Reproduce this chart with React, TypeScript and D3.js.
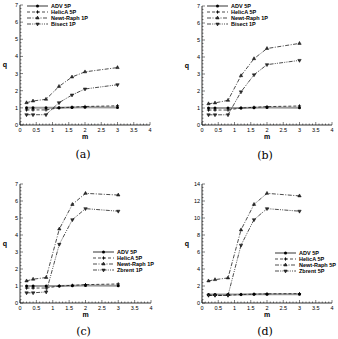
import React, { useEffect, useRef } from "react"
import * as d3 from "d3"

// x positions of the samples (m)
const mValues = [0.2, 0.4, 0.8, 1.2, 1.6, 2, 3]

// panel (a)
const advA = [1.0, 1.0, 1.0, 1.0, 1.02, 1.03, 1.02]
const helicA = [0.88, 0.88, 0.88, 1.0, 1.04, 1.08, 1.12]
const newtA = [1.3, 1.4, 1.5, 2.25, 2.8, 3.1, 3.35]
const bisectA = [0.6, 0.6, 0.6, 1.3, 1.75, 2.1, 2.35]

// panel (b)
const advB = [1.0, 1.0, 1.0, 1.0, 1.02, 1.03, 1.02]
const helicB = [0.88, 0.88, 0.88, 1.0, 1.04, 1.08, 1.12]
const newtB = [1.25, 1.3, 1.45, 2.9, 3.9, 4.5, 4.8]
const bisectB = [0.6, 0.6, 0.6, 1.95, 2.95, 3.55, 3.8]

// panel (c)
const advC = [1.0, 1.0, 1.0, 1.0, 1.02, 1.03, 1.02]
const helicC = [0.88, 0.88, 0.88, 1.0, 1.04, 1.08, 1.12]
const newtC = [1.3, 1.4, 1.5, 4.35, 5.8, 6.45, 6.35]
const zbrentC = [0.6, 0.6, 0.65, 3.45, 4.9, 5.55, 5.4]

// panel (d)
const advD = [1.0, 1.0, 1.0, 1.0, 1.02, 1.03, 1.02]
const helicD = [0.9, 0.9, 0.9, 1.0, 1.04, 1.08, 1.1]
const newtD = [2.6, 2.75, 2.95, 8.6, 11.6, 12.9, 12.6]
const zbrentD = [0.9, 0.9, 0.9, 6.8, 9.8, 11.1, 10.8]

const legendA = ["ADV 5P", "HelicA 5P", "Newt-Raph 1P", "Bisect 1P"]
const legendC = ["ADV 5P", "HelicA 5P", "Newt-Raph 1P", "Zbrent 1P"]
const legendD = ["ADV 5P", "HelicA 5P", "Newt-Raph 5P", "Zbrent 5P"]

const xTicks = [0, 0.5, 1, 1.5, 2, 2.5, 3, 3.5, 4]

// line style per series: dash pattern, marker
const styles = [
	{ dash: null, marker: "circle", color: "#9a9a9a", width: 2 },
	{ dash: "3,2", marker: "plus", color: "#000", width: 0.7 },
	{ dash: "4,1.5,1,1.5", marker: "up", color: "#000", width: 0.7 },
	{ dash: "4,1.2,1,1.2,1,1.2", marker: "down", color: "#000", width: 0.7 },
]

const panels = [
	{ caption: "(a)", left: 20, right: 150, top: 5, bottom: 125, yMax: 7, yStep: 1, yMinor: 0.2, series: [advA, helicA, newtA, bisectA], legend: legendA, lx: 27, ly: 6, capY: 158 },
	{ caption: "(b)", left: 202, right: 332, top: 6, bottom: 125, yMax: 7, yStep: 1, yMinor: 0.2, series: [advB, helicB, newtB, bisectB], legend: legendA, lx: 207, ly: 6, capY: 159 },
	{ caption: "(c)", left: 20, right: 151, top: 184, bottom: 303, yMax: 7, yStep: 1, yMinor: 0.2, series: [advC, helicC, newtC, zbrentC], legend: legendC, lx: 93, ly: 252, capY: 335 },
	{ caption: "(d)", left: 202, right: 332, top: 184, bottom: 303, yMax: 14, yStep: 2, yMinor: 0.4, series: [advD, helicD, newtD, zbrentD], legend: legendD, lx: 275, ly: 253, capY: 335 },
]

const drawMarker = (g, kind, x, y) => {
	if (kind === "circle") {
		g.append("circle").attr("cx", x).attr("cy", y).attr("r", 1.5).attr("fill", "#000")
	} else if (kind === "plus") {
		g.append("path")
			.attr("d", `M${x - 1.6},${y}H${x + 1.6}M${x},${y - 1.6}V${y + 1.6}`)
			.attr("stroke", "#000")
			.attr("stroke-width", 0.9)
	} else {
		const sym = d3.symbol().type(d3.symbolTriangle).size(5)
		g.append("path")
			.attr("d", sym())
			.attr("transform", `translate(${x},${y}) rotate(${kind === "down" ? 180 : 0})`)
			.attr("fill", "#333")
			.attr("stroke", "#000")
			.attr("stroke-width", 0.5)
	}
}

const App = () => {
	const ref = useRef(null)

	useEffect(() => {
		const svg = d3.select(ref.current)
		svg.selectAll("*").remove()
		const font = "'Liberation Sans', Arial, sans-serif"

		panels.forEach(p => {
			const g = svg.append("g")
			const x = d3.scaleLinear().domain([0, 4]).range([p.left, p.right])
			const y = d3.scaleLinear().domain([0, p.yMax]).range([p.bottom, p.top])

			// axes lines
			g.append("line").attr("x1", p.left).attr("x2", p.right).attr("y1", p.bottom).attr("y2", p.bottom).attr("stroke", "#000").attr("stroke-width", 0.8)
			g.append("line").attr("x1", p.left).attr("x2", p.left).attr("y1", p.bottom).attr("y2", p.top).attr("stroke", "#000").attr("stroke-width", 0.8)

			// x ticks (inward)
			d3.range(0, 4.0001, 0.1).forEach(v => {
				const major = Math.abs(v * 2 - Math.round(v * 2)) < 1e-6
				g.append("line")
					.attr("x1", x(v)).attr("x2", x(v))
					.attr("y1", p.bottom).attr("y2", p.bottom - (major ? 3 : 1.5))
					.attr("stroke", "#000").attr("stroke-width", 0.5)
			})
			xTicks.forEach(v => {
				g.append("text")
					.attr("x", x(v)).attr("y", p.bottom + 7)
					.attr("text-anchor", "middle")
					.style("font-family", font).style("font-size", "5.5px")
					.text(v)
			})

			// y ticks (inward)
			const n = Math.round(p.yMax / p.yMinor)
			for (let i = 0; i <= n; i++) {
				const v = i * p.yMinor
				const major = Math.abs(v / p.yStep - Math.round(v / p.yStep)) < 1e-6
				g.append("line")
					.attr("x1", p.left).attr("x2", p.left + (major ? 3 : 1.5))
					.attr("y1", y(v)).attr("y2", y(v))
					.attr("stroke", "#000").attr("stroke-width", 0.5)
			}
			d3.range(0, p.yMax + 0.001, p.yStep).forEach(v => {
				g.append("text")
					.attr("x", p.left - 2).attr("y", y(v) + 2)
					.attr("text-anchor", "end")
					.style("font-family", font).style("font-size", "5.5px")
					.text(v)
			})

			// axis titles
			g.append("text")
				.attr("x", (p.left + p.right) / 2).attr("y", p.bottom + 14)
				.attr("text-anchor", "middle")
				.style("font-family", font).style("font-size", "7px").style("font-weight", "bold")
				.text("m")
			g.append("text")
				.attr("x", p.left - 15).attr("y", (p.top + p.bottom) / 2 + 2)
				.attr("text-anchor", "middle")
				.style("font-family", font).style("font-size", "7px").style("font-weight", "bold")
				.text("q")

			// series
			const line = d3.line().x((_, i) => x(mValues[i])).y(d => y(d))
			p.series.forEach((s, k) => {
				const st = styles[k]
				g.append("path")
					.attr("d", line(s))
					.attr("fill", "none")
					.attr("stroke", st.color)
					.attr("stroke-width", st.width)
					.attr("stroke-dasharray", st.dash)
				s.forEach((d, i) => drawMarker(g, st.marker, x(mValues[i]), y(d)))
			})

			// legend
			p.legend.forEach((name, k) => {
				const st = styles[k]
				const ly = p.ly + k * 6
				g.append("line")
					.attr("x1", p.lx).attr("x2", p.lx + 21)
					.attr("y1", ly).attr("y2", ly)
					.attr("stroke", st.color)
					.attr("stroke-width", st.width)
					.attr("stroke-dasharray", st.dash)
				drawMarker(g, st.marker, p.lx + 10.5, ly)
				g.append("text")
					.attr("x", p.lx + 24).attr("y", ly + 2)
					.style("font-family", font).style("font-size", "5.5px").style("font-weight", "bold")
					.text(name)
			})

			// caption
			g.append("text")
				.attr("x", (p.left + p.right) / 2 - 2).attr("y", p.capY)
				.attr("text-anchor", "middle")
				.style("font-family", "'DejaVu Serif', serif").style("font-size", "11px")
				.text(p.caption)
		})
	}, [])

	return (
		<svg
			ref={ref}
			width={338}
			height={339}
			style={{ position: "absolute", left: 0, top: 0, background: "#fff" }}
		/>
	)
}

export default App
